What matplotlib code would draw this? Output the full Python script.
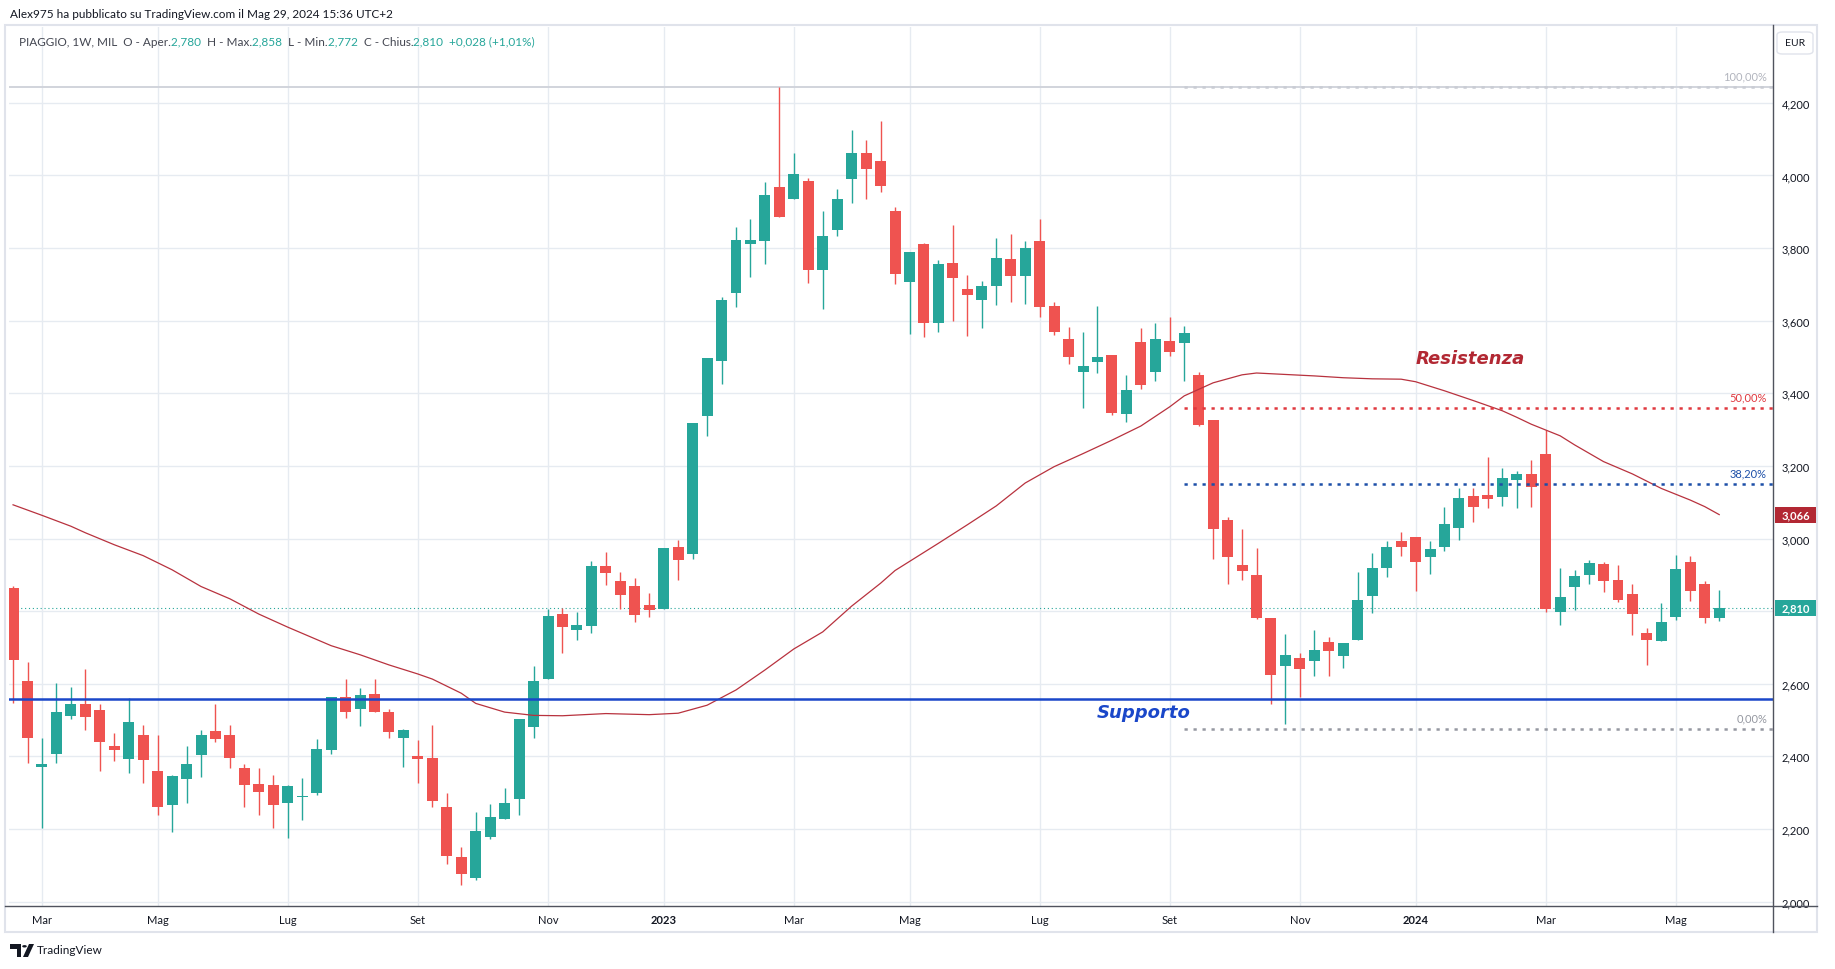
import numpy as np
import matplotlib
matplotlib.use("Agg")
import matplotlib.pyplot as plt
from matplotlib.transforms import blended_transform_factory
from matplotlib.patches import Rectangle, FancyBboxPatch, Polygon, Circle
from matplotlib.lines import Line2D

plt.rcParams['font.family'] = ['Lato', 'DejaVu Sans']

W, H = 1835, 970

# weekly candles PIAGGIO (MIL), index 0 = week of 21 Feb 2022, last = 27 May 2024
opens = [2.863, 2.609, 2.370, 2.408, 2.510, 2.545, 2.529, 2.429, 2.392, 2.460,
         2.360, 2.267, 2.339, 2.405, 2.471, 2.460, 2.369, 2.325, 2.322, 2.273,
         2.289, 2.298, 2.419, 2.563, 2.530, 2.573, 2.521, 2.450, 2.402, 2.396,
         2.261, 2.124, 2.064, 2.179, 2.227, 2.283, 2.480, 2.612, 2.793, 2.749,
         2.758, 2.925, 2.884, 2.870, 2.818, 2.805, 2.978, 2.957, 3.337, 3.488,
         3.676, 3.811, 3.819, 3.967, 3.934, 3.986, 3.739, 3.849, 3.990, 4.061,
         4.041, 3.901, 3.706, 3.812, 3.593, 3.760, 3.688, 3.656, 3.695, 3.771,
         3.722, 3.820, 3.641, 3.550, 3.460, 3.485, 3.506, 3.342, 3.542, 3.460,
         3.545, 3.540, 3.451, 3.327, 3.052, 2.928, 2.900, 2.782, 2.648, 2.672,
         2.662, 2.716, 2.676, 2.720, 2.841, 2.918, 2.992, 3.005, 2.948, 2.976,
         3.028, 3.118, 3.121, 3.114, 3.161, 3.179, 3.234, 2.797, 2.866, 2.899,
         2.931, 2.887, 2.848, 2.741, 2.717, 2.783, 2.936, 2.876, 2.780]
highs = [2.870, 2.661, 2.451, 2.601, 2.592, 2.642, 2.543, 2.465, 2.560, 2.487,
         2.460, 2.349, 2.429, 2.474, 2.543, 2.487, 2.380, 2.369, 2.349, 2.322,
         2.341, 2.449, 2.565, 2.614, 2.589, 2.614, 2.530, 2.476, 2.446, 2.487,
         2.298, 2.151, 2.248, 2.270, 2.314, 2.504, 2.650, 2.805, 2.809, 2.799,
         2.939, 2.964, 2.909, 2.892, 2.851, 2.975, 2.997, 3.317, 3.498, 3.666,
         3.859, 3.881, 3.983, 4.245, 4.063, 3.994, 3.901, 3.964, 4.124, 4.099,
         4.149, 3.912, 3.790, 3.815, 3.768, 3.865, 3.727, 3.710, 3.829, 3.839,
         3.820, 3.881, 3.652, 3.583, 3.570, 3.641, 3.506, 3.451, 3.581, 3.594,
         3.611, 3.586, 3.459, 3.327, 3.060, 3.025, 2.973, 2.782, 2.738, 2.686,
         2.749, 2.730, 2.711, 2.909, 2.961, 2.994, 3.019, 3.005, 2.994, 3.088,
         3.140, 3.138, 3.226, 3.193, 3.187, 3.217, 3.300, 2.920, 2.914, 2.942,
         2.936, 2.928, 2.876, 2.755, 2.823, 2.956, 2.953, 2.884, 2.858]
lows = [2.546, 2.381, 2.204, 2.383, 2.502, 2.474, 2.361, 2.386, 2.353, 2.328,
        2.240, 2.193, 2.273, 2.342, 2.439, 2.367, 2.262, 2.240, 2.204, 2.174,
        2.226, 2.295, 2.408, 2.505, 2.483, 2.521, 2.452, 2.372, 2.328, 2.262,
        2.105, 2.045, 2.059, 2.173, 2.227, 2.240, 2.452, 2.612, 2.684, 2.722,
        2.739, 2.871, 2.805, 2.769, 2.783, 2.805, 2.885, 2.943, 3.282, 3.425,
        3.637, 3.720, 3.757, 3.885, 3.934, 3.703, 3.632, 3.833, 3.923, 3.936,
        3.954, 3.700, 3.563, 3.554, 3.568, 3.598, 3.557, 3.579, 3.643, 3.652,
        3.645, 3.609, 3.561, 3.482, 3.361, 3.455, 3.339, 3.322, 3.413, 3.433,
        3.502, 3.433, 3.311, 2.945, 2.876, 2.885, 2.779, 2.545, 2.488, 2.565,
        2.621, 2.621, 2.643, 2.720, 2.794, 2.893, 2.951, 2.855, 2.902, 2.965,
        2.995, 3.045, 3.083, 3.089, 3.083, 3.086, 2.797, 2.761, 2.802, 2.874,
        2.852, 2.824, 2.734, 2.651, 2.717, 2.775, 2.827, 2.767, 2.772]
closes = [2.665, 2.452, 2.380, 2.521, 2.545, 2.508, 2.439, 2.419, 2.496, 2.389,
          2.262, 2.347, 2.380, 2.460, 2.447, 2.397, 2.320, 2.301, 2.267, 2.319,
          2.291, 2.421, 2.563, 2.521, 2.570, 2.521, 2.466, 2.474, 2.392, 2.276,
          2.127, 2.075, 2.195, 2.234, 2.272, 2.504, 2.609, 2.788, 2.756, 2.763,
          2.925, 2.904, 2.844, 2.789, 2.802, 2.975, 2.940, 3.317, 3.498, 3.658,
          3.823, 3.821, 3.947, 3.885, 4.005, 3.739, 3.832, 3.934, 4.061, 4.017,
          3.970, 3.728, 3.790, 3.593, 3.755, 3.717, 3.670, 3.697, 3.774, 3.722,
          3.801, 3.639, 3.570, 3.499, 3.476, 3.501, 3.345, 3.410, 3.424, 3.550,
          3.513, 3.567, 3.314, 3.025, 2.948, 2.912, 2.782, 2.625, 2.680, 2.640,
          2.694, 2.689, 2.711, 2.832, 2.920, 2.978, 2.976, 2.935, 2.970, 3.041,
          3.113, 3.086, 3.108, 3.168, 3.179, 3.141, 2.806, 2.840, 2.898, 2.934,
          2.882, 2.830, 2.791, 2.720, 2.771, 2.917, 2.855, 2.782, 2.810]

# moving average at some candles
ma_idx = [0, 2, 4, 5, 7, 9, 11, 13, 15, 17, 19, 22, 24, 26, 28, 29, 31, 32, 34,
          36, 38, 41, 44, 46, 48, 50, 52, 54, 56, 58, 60, 61, 62, 64, 66, 68, 70,
          72, 74, 76, 78, 80, 81, 83, 85, 86, 88, 90, 92, 94, 96, 97, 99, 101,
          103, 104, 105, 106, 107, 108, 110, 112, 114, 115, 116, 117, 118]
ma_val = [3.093, 3.064, 3.034, 3.016, 2.983, 2.953, 2.914, 2.868, 2.834, 2.792,
          2.756, 2.705, 2.680, 2.652, 2.627, 2.613, 2.574, 2.546, 2.522, 2.513,
          2.512, 2.518, 2.515, 2.519, 2.541, 2.583, 2.638, 2.696, 2.743, 2.814,
          2.877, 2.912, 2.937, 2.987, 3.038, 3.090, 3.153, 3.198, 3.234, 3.271,
          3.310, 3.363, 3.393, 3.429, 3.451, 3.456, 3.452, 3.448, 3.443, 3.440,
          3.439, 3.432, 3.407, 3.380, 3.352, 3.334, 3.315, 3.299, 3.283, 3.258,
          3.212, 3.178, 3.138, 3.122, 3.106, 3.088, 3.066]

month_pos = [2, 10, 19, 28, 37, 45, 54, 62, 71, 80, 89, 97, 106, 115]
month_lab = ['Mar', 'Mag', 'Lug', 'Set', 'Nov', '2023', 'Mar', 'Mag', 'Lug',
             'Set', 'Nov', '2024', 'Mar', 'Mag']
price_ticks = [2.0, 2.2, 2.4, 2.6, 2.8, 3.0, 3.2, 3.4, 3.6, 3.8, 4.0, 4.2]

support = 2.558
fib_start = 81
fib_levels = [4.245, 3.360, 3.151, 2.475]
fib_labels = ['100,00%', '50,00%', '38,20%', '0,00%']
fib_colors = ['#c9ccd4', '#e0383e', '#1c4fa8', '#9598a1']

UP = '#26a69a'
DOWN = '#ef5350'
TXT = '#131722'


def fmt(v):
    return f"{v:.3f}".replace('.', ',')


def fx(x):
    return x / W


def fy(y):
    return 1 - y / H


fig = plt.figure(figsize=(W / 100, H / 100), dpi=100)
ax = fig.add_axes([fx(9), fy(907), (1773 - 9) / W, (907 - 28) / H])
ax.set_xlim(-0.28, 121.72)
ax.set_ylim(1.988, 4.409)

# candles
o = np.array(opens)
c = np.array(closes)
x = np.arange(len(c))
cols = np.where(c >= o, UP, DOWN)
ax.vlines(x, lows, highs, colors=cols, lw=1.0, zorder=3)
ax.bar(x, np.maximum(np.abs(c - o), 0.003), bottom=np.minimum(o, c),
       width=0.76, color=cols, lw=0, zorder=4)

# moving average
ax.plot(ma_idx, ma_val, color='#b8323e', lw=0.9, zorder=5)

# lines
ax.axhline(fib_levels[0], color='#d1d4dc', lw=1.4, zorder=2)
ax.axhline(support, color='#1a47c9', lw=1.8, zorder=6)
ax.axhline(closes[-1], color=UP, lw=0.8, ls=(0, (1, 2.5)), zorder=2)
xr = ax.get_xlim()[1]
for lev, lab, col in zip(fib_levels, fib_labels, fib_colors):
    ax.hlines(lev, fib_start, xr, colors=col, lw=1.8, linestyles=[(0, (1.3, 2.3))], zorder=6)
    ax.annotate(lab, xy=(0.9966, lev), xycoords=('axes fraction', 'data'),
                xytext=(0, 4), textcoords='offset points', ha='right', va='bottom',
                color=col if lab != '100,00%' else '#b2b5be', fontsize=8)

ax.text(100.8, 3.497, 'Resistenza', color='#b22833', fontsize=13, style='italic',
        fontweight='bold', ha='center', va='center', family=['DejaVu Sans'])
ax.text(78.2, 2.521, 'Supporto', color='#1a47c9', fontsize=13, style='italic',
        fontweight='bold', ha='center', va='center', family=['DejaVu Sans'])

# axes, grid, ticks
for s in ax.spines.values():
    s.set_visible(False)
ax.set_axisbelow(True)
ax.grid(True, color='#e6ebf1', lw=1)
ax.set_xticks(month_pos)
ax.set_xticklabels(month_lab)
for lab in ax.get_xticklabels():
    if lab.get_text().isdigit():
        lab.set_fontweight('bold')
ax.set_yticks(price_ticks)
# the 2,800 label sits under the last price box, as in the reference
ax.set_yticklabels(['' if abs(v - closes[-1]) < 0.05 else fmt(v) for v in price_ticks])
ax.yaxis.tick_right()
ax.tick_params(axis='x', length=0, pad=6, labelsize=8, labelcolor=TXT)
ax.tick_params(axis='y', length=0, pad=6, labelsize=8, labelcolor=TXT)

fig.add_artist(Rectangle((fx(5), fy(933)), (1817 - 5) / W, (933 - 26) / H,
                         fill=False, ec='#e0e3eb', lw=1.5, transform=fig.transFigure))
fig.add_artist(Line2D([fx(1773), fx(1773)], [fy(26), fy(933)], color='#50535e', lw=1))
fig.add_artist(Line2D([fx(5), fx(1817)], [fy(907), fy(907)], color='#50535e', lw=1))

# price labels on the scale
tr = blended_transform_factory(fig.transFigure, ax.transData)
bh = 0.044
for val, col in [(ma_val[-1], '#b22833'), (closes[-1], UP)]:
    fig.add_artist(Rectangle((fx(1775), val - bh / 2), (1816 - 1775) / W, bh,
                             fc=col, ec='none', transform=tr))
    fig.text(fx(1795.5), val, fmt(val), transform=tr, color='white', fontsize=8,
             fontweight='bold', ha='center', va='center')

fig.add_artist(FancyBboxPatch((fx(1777), fy(55)), (1813 - 1777) / W, (55 - 33) / H,
                              boxstyle='round,pad=0,rounding_size=0.003',
                              fc='white', ec='#e0e3eb', lw=1, transform=fig.transFigure))
fig.text(fx(1795), fy(44), 'EUR', fontsize=7.5, color=TXT, ha='center', va='center')

# header
fig.text(fx(10), fy(14), 'Alex975 ha pubblicato su TradingView.com il Mag 29, 2024 15:36 UTC+2',
         fontsize=8.5, color=TXT, va='center')

renderer = fig.canvas.get_renderer()
chg = closes[-1] - closes[-2]
pct = chg / closes[-2] * 100
parts = [('PIAGGIO, 1W, MIL  O - Aper.', '#434651'), (fmt(opens[-1]) + '  ', UP),
         ('H - Max.', '#434651'), (fmt(highs[-1]) + '  ', UP),
         ('L - Min.', '#434651'), (fmt(lows[-1]) + '  ', UP),
         ('C - Chius.', '#434651'),
         (fmt(closes[-1]) + '  ' + ('+' if chg >= 0 else '') + fmt(chg)
          + ' (' + ('+' if chg >= 0 else '') + f"{pct:.2f}".replace('.', ',') + '%)', UP)]
xpos = 19
for s, col in parts:
    t = fig.text(fx(xpos), fy(42), s, color=col, fontsize=8.5, va='center', ha='left')
    xpos += t.get_window_extent(renderer).width

# TradingView logo
fig.add_artist(Polygon([(fx(10), fy(945)), (fx(21), fy(945)), (fx(21), fy(958)),
                        (fx(16.5), fy(958)), (fx(16.5), fy(949.5)), (fx(10), fy(949.5))],
                       closed=True, fc=TXT, ec='none', transform=fig.transFigure))
fig.add_artist(Circle((fx(24.5), fy(947.3)), 2.3 / W, fc=TXT, ec='none',
                      transform=fig.transFigure))
fig.add_artist(Polygon([(fx(23), fy(958)), (fx(29), fy(945)), (fx(34), fy(945)),
                        (fx(28), fy(958))], closed=True, fc=TXT, ec='none',
                       transform=fig.transFigure))
fig.text(fx(37), fy(951), 'TradingView', fontsize=8.5, color=TXT, va='center')

fig.savefig('out.png', dpi=100)
